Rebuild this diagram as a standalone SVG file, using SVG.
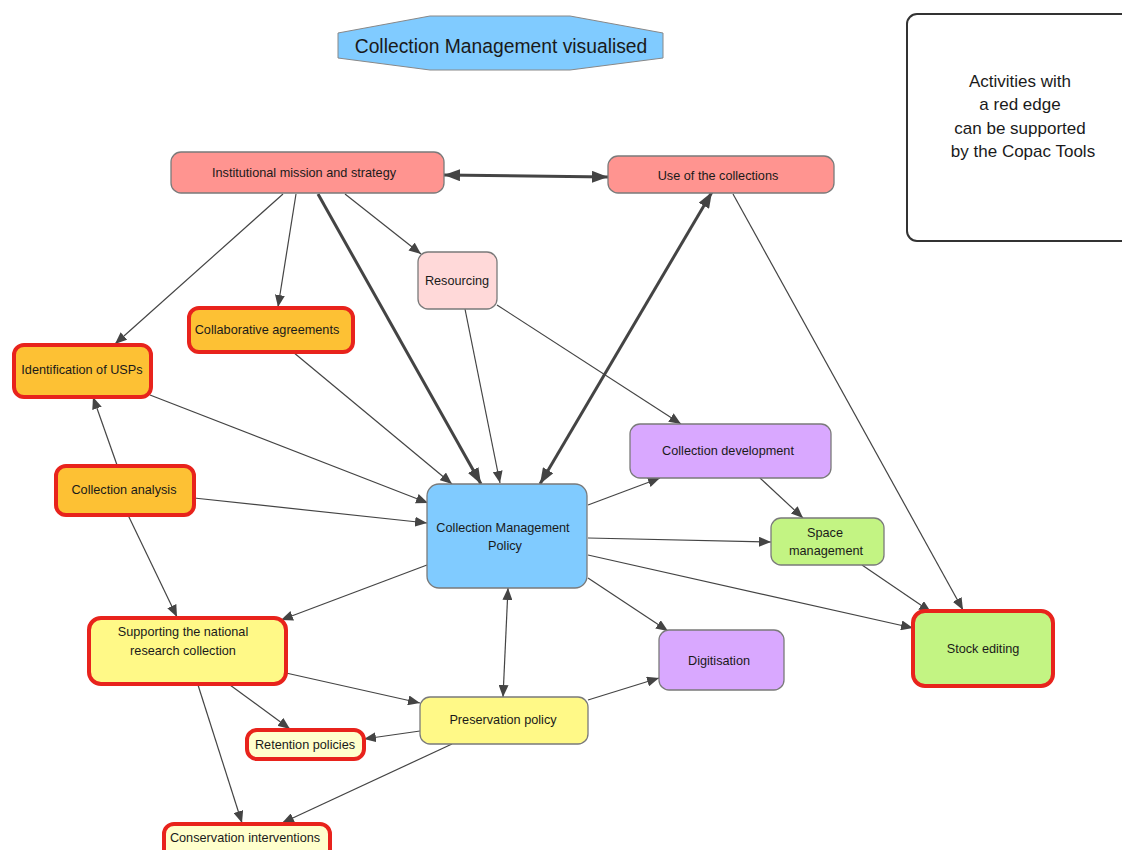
<svg xmlns="http://www.w3.org/2000/svg" width="1122" height="850" viewBox="0 0 1122 850">
<style>
text{font-family:"Liberation Sans",Arial,sans-serif;fill:#1a1a1a;text-anchor:middle;dominant-baseline:central}
.n{font-size:12.7px}
.box{stroke:#7a7a7a;stroke-width:1.3}
.red{stroke:#e8231c;stroke-width:4}
.e{stroke:#444;stroke-width:1.2;fill:none;marker-end:url(#a)}
.b{marker-start:url(#a)}
.t{stroke:#444;stroke-width:3;fill:none;marker-end:url(#A)}
.tb{marker-start:url(#A)}
</style>
<defs>
<marker id="a" markerUnits="userSpaceOnUse" viewBox="0 0 12 10" refX="12" refY="5" markerWidth="12" markerHeight="10" orient="auto-start-reverse"><path d="M0,0 L12,5 L0,10 z" fill="#444"/></marker>
<marker id="A" markerUnits="userSpaceOnUse" viewBox="0 0 16 12" refX="16" refY="6" markerWidth="16" markerHeight="12" orient="auto-start-reverse"><path d="M0,0 L16,6 L0,12 z" fill="#444"/></marker>
</defs>
<rect width="1122" height="850" fill="#fff"/>
<g id="title">
<polygon points="338,33 430,16 570,16 663,33 663,58 570,70 430,70 338,58" fill="#80cbff" stroke="#888" stroke-width="1"/>
<text x="501" y="46" style="font-size:19.3px">Collection Management visualised</text>
</g>
<g id="legend">
<rect x="907" y="14" width="240" height="227" rx="10" fill="#fff" stroke="#333" stroke-width="2"/>
<text x="1020" y="81" style="font-size:17px">Activities with</text>
<text x="1020" y="104" style="font-size:17px">a red edge</text>
<text x="1020" y="128" style="font-size:17px">can be supported</text>
<text x="1023" y="151" style="font-size:17px">by the Copac Tools</text>
</g>
<g id="connectors">
<line class="t tb" x1="444" y1="175" x2="608" y2="177"/>
<line class="e" x1="283" y1="194" x2="115" y2="344"/>
<line class="e" x1="296" y1="194" x2="278" y2="307"/>
<line class="t" x1="318" y1="194" x2="481" y2="484"/>
<line class="e" x1="345" y1="194" x2="421" y2="254"/>
<line class="t tb" x1="712" y1="192" x2="540" y2="484"/>
<line class="e" x1="733" y1="194" x2="963" y2="610"/>
<line class="e" x1="465" y1="309" x2="500" y2="483"/>
<line class="e" x1="497" y1="305" x2="681" y2="424"/>
<line class="e" x1="293" y1="352" x2="452" y2="484"/>
<line class="e" x1="150" y1="395" x2="428" y2="503"/>
<line class="e" x1="117" y1="465" x2="93" y2="397"/>
<line class="e" x1="194" y1="498" x2="427" y2="523"/>
<line class="e" x1="128" y1="515" x2="177" y2="617"/>
<line class="e" x1="588" y1="505" x2="660" y2="478"/>
<line class="e" x1="588" y1="538" x2="771" y2="542"/>
<line class="e" x1="588" y1="555" x2="913" y2="628"/>
<line class="e" x1="588" y1="578" x2="668" y2="631"/>
<line class="e" x1="427" y1="565" x2="281" y2="620"/>
<line class="e b" x1="508" y1="588" x2="503" y2="697"/>
<line class="e" x1="760" y1="478" x2="803" y2="518"/>
<line class="e" x1="862" y1="565" x2="931" y2="612"/>
<line class="e" x1="588" y1="700" x2="659" y2="678"/>
<line class="e" x1="420" y1="731" x2="364" y2="739"/>
<line class="e" x1="452" y1="744" x2="282" y2="823"/>
<line class="e" x1="286" y1="673" x2="420" y2="703"/>
<line class="e" x1="230" y1="685" x2="290" y2="729"/>
<line class="e" x1="198" y1="685" x2="242" y2="823"/>
</g>
<g id="n-institutional"><rect class="box" x="171" y="152" width="273" height="41" rx="10" fill="#ff9490"/><text class="n" x="304" y="173">Institutional mission and strategy</text></g>
<g id="n-use"><rect class="box" x="608" y="156" width="226" height="37" rx="10" fill="#ff9490"/><text class="n" x="718" y="176">Use of the collections</text></g>
<g id="n-resourcing"><rect class="box" x="418" y="252" width="79" height="57" rx="10" fill="#ffd9d9"/><text class="n" x="457" y="281">Resourcing</text></g>
<g id="n-collaborative"><rect class="red" x="189" y="308" width="164" height="44" rx="10" fill="#fdc134"/><text class="n" x="267" y="330">Collaborative agreements</text></g>
<g id="n-usps"><rect class="red" x="14" y="345" width="137" height="52" rx="10" fill="#fdc134"/><text class="n" x="82" y="370">Identification of USPs</text></g>
<g id="n-analysis"><rect class="red" x="56" y="466" width="138" height="49" rx="10" fill="#fdc134"/><text class="n" x="124" y="490">Collection analysis</text></g>
<g id="n-cmp"><rect class="box" x="427" y="484" width="160" height="104" rx="12" fill="#80cbff"/><text class="n" x="503" y="528">Collection Management</text><text class="n" x="505" y="546">Policy</text></g>
<g id="n-development"><rect class="box" x="630" y="424" width="201" height="54" rx="10" fill="#d9a8ff"/><text class="n" x="728" y="451">Collection development</text></g>
<g id="n-space"><rect class="box" x="771" y="518" width="113" height="47" rx="10" fill="#c3f483"/><text class="n" x="825" y="533">Space</text><text class="n" x="826" y="551">management</text></g>
<g id="n-stock"><rect class="red" x="913" y="611" width="140" height="75" rx="12" fill="#c3f483"/><text class="n" x="983" y="649">Stock editing</text></g>
<g id="n-digitisation"><rect class="box" x="659" y="630" width="125" height="60" rx="10" fill="#d9a8ff"/><text class="n" x="719" y="661">Digitisation</text></g>
<g id="n-supporting"><rect class="red" x="89" y="618" width="197" height="66" rx="12" fill="#fff987"/><text class="n" x="183" y="632">Supporting the national</text><text class="n" x="183" y="651">research collection</text></g>
<g id="n-preservation"><rect class="box" x="420" y="697" width="168" height="47" rx="10" fill="#fff987"/><text class="n" x="503" y="720">Preservation policy</text></g>
<g id="n-retention"><rect class="red" x="247" y="730" width="117" height="29" rx="10" fill="#ffffcc"/><text class="n" x="305" y="745">Retention policies</text></g>
<g id="n-conservation"><rect class="red" x="164" y="824" width="166" height="40" rx="10" fill="#ffffcc"/><text class="n" x="245" y="838">Conservation interventions</text></g>
</svg>
